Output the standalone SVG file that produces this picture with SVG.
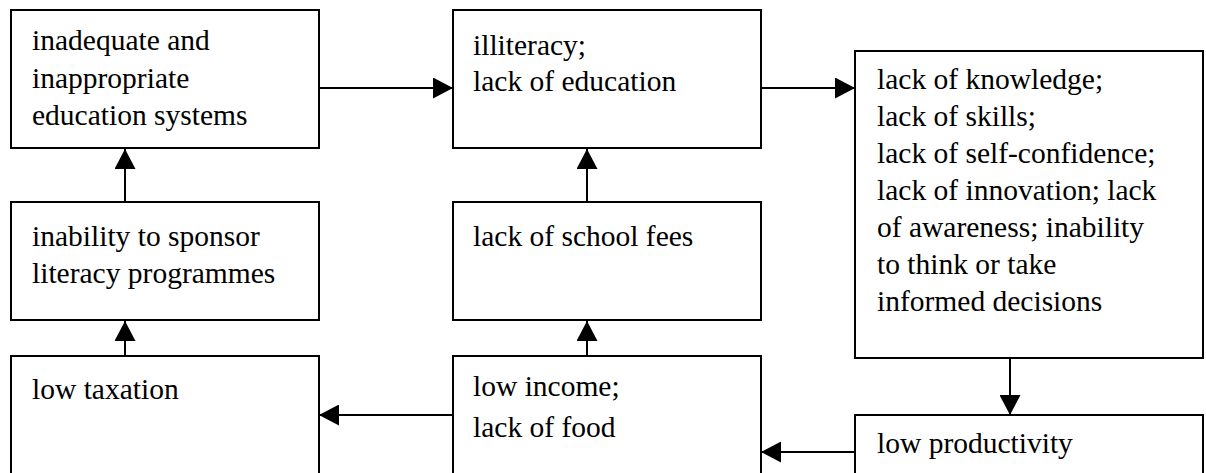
<svg xmlns="http://www.w3.org/2000/svg" width="1206" height="473" viewBox="0 0 1206 473">
<style>
.box{fill:#fff;stroke:#000;stroke-width:2}
.t{font-family:"Liberation Serif","Times New Roman",serif;font-size:29.5px;fill:#000}
.c{stroke:#000;stroke-width:2;fill:none;marker-end:url(#ah)}
</style>
<defs>
<marker id="ah" markerUnits="userSpaceOnUse" markerWidth="21" markerHeight="21" refX="20" refY="10.5" orient="auto">
<path d="M0,0 L20,10.5 L0,21 Z" fill="#000"/>
</marker>
</defs>
<rect width="1206" height="473" fill="#fff"/>
<g id="connectors">
<line class="c" x1="318" y1="88" x2="453" y2="88"/>
<line class="c" x1="760" y1="88" x2="855" y2="88"/>
<line class="c" x1="125" y1="202" x2="125" y2="149"/>
<line class="c" x1="587" y1="202" x2="587" y2="149"/>
<line class="c" x1="125" y1="356" x2="125" y2="321"/>
<line class="c" x1="587" y1="356" x2="587" y2="321"/>
<line class="c" x1="1010" y1="358" x2="1010" y2="415"/>
<line class="c" x1="453" y1="415" x2="319" y2="415"/>
<line class="c" x1="855" y1="452" x2="761" y2="452"/>
</g>
<g id="n1"><rect class="box" x="11" y="10" width="308" height="138"/>
<text class="t" x="32" y="50">inadequate and</text>
<text class="t" x="32" y="87.5">inappropriate</text>
<text class="t" x="32" y="125">education systems</text></g>
<g id="n2"><rect class="box" x="453" y="10" width="308" height="138"/>
<text class="t" x="473" y="55">illiteracy;</text>
<text class="t" x="473" y="91">lack of education</text></g>
<g id="n3"><rect class="box" x="855" y="51" width="348" height="307"/>
<text class="t" x="877" y="89">lack of knowledge;</text>
<text class="t" x="877" y="126">lack of skills;</text>
<text class="t" x="877" y="163">lack of self-confidence;</text>
<text class="t" x="877" y="200">lack of innovation; lack</text>
<text class="t" x="877" y="237">of awareness; inability</text>
<text class="t" x="877" y="274">to think or take</text>
<text class="t" x="877" y="311">informed decisions</text></g>
<g id="n4"><rect class="box" x="11" y="202" width="308" height="118"/>
<text class="t" x="32" y="246">inability to sponsor</text>
<text class="t" x="32" y="283">literacy programmes</text></g>
<g id="n5"><rect class="box" x="453" y="202" width="308" height="118"/>
<text class="t" x="473" y="246">lack of school fees</text></g>
<g id="n6"><rect class="box" x="11" y="356" width="308" height="130"/>
<text class="t" x="32" y="399">low taxation</text></g>
<g id="n7"><rect class="box" x="453" y="356" width="308" height="130"/>
<text class="t" x="473" y="396">low income;</text>
<text class="t" x="473" y="437">lack of food</text></g>
<g id="n8"><rect class="box" x="855" y="415" width="348" height="70"/>
<text class="t" x="877" y="453">low productivity</text></g>
</svg>
